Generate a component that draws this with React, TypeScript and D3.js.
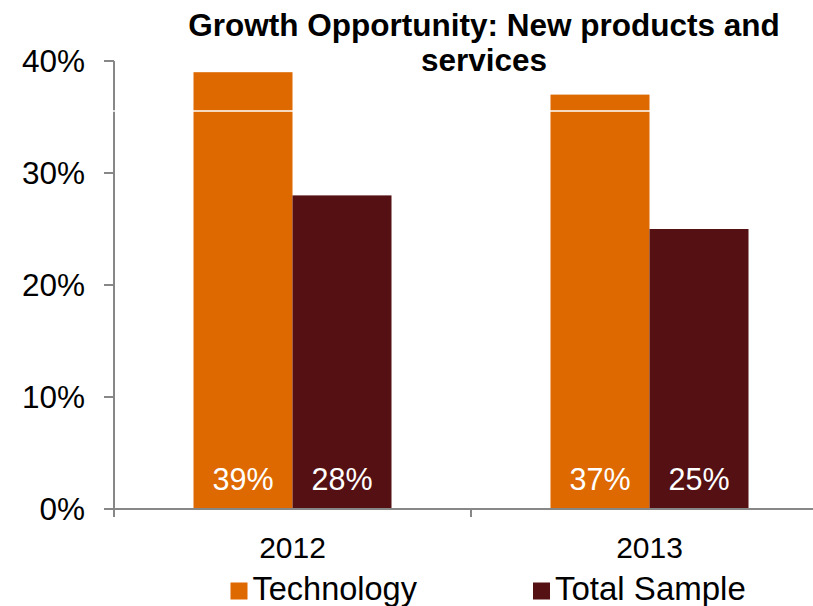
import React from "react";
import * as d3 from "d3";

const categories = ["2012", "2013"];
const seriesNames = ["Technology", "Total Sample"];
const technology = [39, 37];
const totalSample = [28, 25];
const yTicks = [0, 10, 20, 30, 40];
const colors = ["#DD6900", "#541012"];

export default function App() {
  const W = 813, H = 606;
  const x0 = 114, x1 = 828;
  const yTop = 61, yBot = 509;
  const x = d3.scaleBand<string>().domain(categories).range([x0, x1]).paddingInner(0).paddingOuter(0);
  const inner = d3.scaleBand<string>().domain(seriesNames).range([0, 198]);
  const y = d3.scaleLinear().domain([0, 40]).range([yBot, yTop]);
  const series = [technology, totalSample];
  const font = "'Liberation Sans', Arial, sans-serif";
  return (
    <svg width={W} height={H} style={{ position: "absolute", left: 0, top: 0, background: "#fff" }} fontFamily={font}>
      <rect width={W} height={H} fill="#fff" />
      {categories.map((c, ci) =>
        series.map((s, si) => {
          const bx = (x(c) as number) + (x.bandwidth() - 198) / 2 + (inner(seriesNames[si]) as number);
          return (
            <g key={c + si}>
              <rect x={bx} y={y(s[ci])} width={inner.bandwidth()} height={yBot - y(s[ci])} fill={colors[si]} />
              <text x={bx + inner.bandwidth() / 2} y={490} fill="#fff" fontSize={30.5} textAnchor="middle">{s[ci]}%</text>
            </g>
          );
        })
      )}
      {/* y axis */}
      <line x1={x0} x2={x0} y1={yTop} y2={yBot + 8} stroke="#878787" strokeWidth={2} />
      {yTicks.map((t) => (
        <g key={t}>
          <line x1={x0 - 10} x2={x0} y1={y(t)} y2={y(t)} stroke="#878787" strokeWidth={2} />
          <text x={85} y={y(t) + 11} fontSize={31.5} textAnchor="end" fill="#000">{t}%</text>
        </g>
      ))}
      {/* x axis */}
      <line x1={x0 - 10} x2={W} y1={yBot} y2={yBot} stroke="#878787" strokeWidth={2} />
      {categories.map((c, i) => (
        <g key={c}>
          {i > 0 && <line x1={x(c) as number} x2={x(c) as number} y1={yBot} y2={yBot + 8} stroke="#878787" strokeWidth={2} />}
          <text x={(x(c) as number) + x.bandwidth() / 2} y={558} fontSize={30} textAnchor="middle" fill="#000">{c}</text>
        </g>
      ))}
      <line x1={0} x2={W} y1={111} y2={111} stroke="#fff" strokeWidth={1.5} />
      {/* title */}
      <text x={484} y={36} fontSize={31.5} fontWeight="bold" textAnchor="middle" fill="#000">Growth Opportunity: New products and</text>
      <text x={484} y={71} fontSize={31.5} fontWeight="bold" textAnchor="middle" fill="#000">services</text>
      {/* legend */}
      {seriesNames.map((n, i) => {
        const lx = i === 0 ? 230.5 : 533;
        return (
          <g key={n}>
            <rect x={lx} y={582.5} width={17} height={17} fill={colors[i]} />
            <text x={lx + 22} y={600} fontSize={i === 0 ? 32.5 : 33} fill="#000">{n}</text>
          </g>
        );
      })}
    </svg>
  );
}
